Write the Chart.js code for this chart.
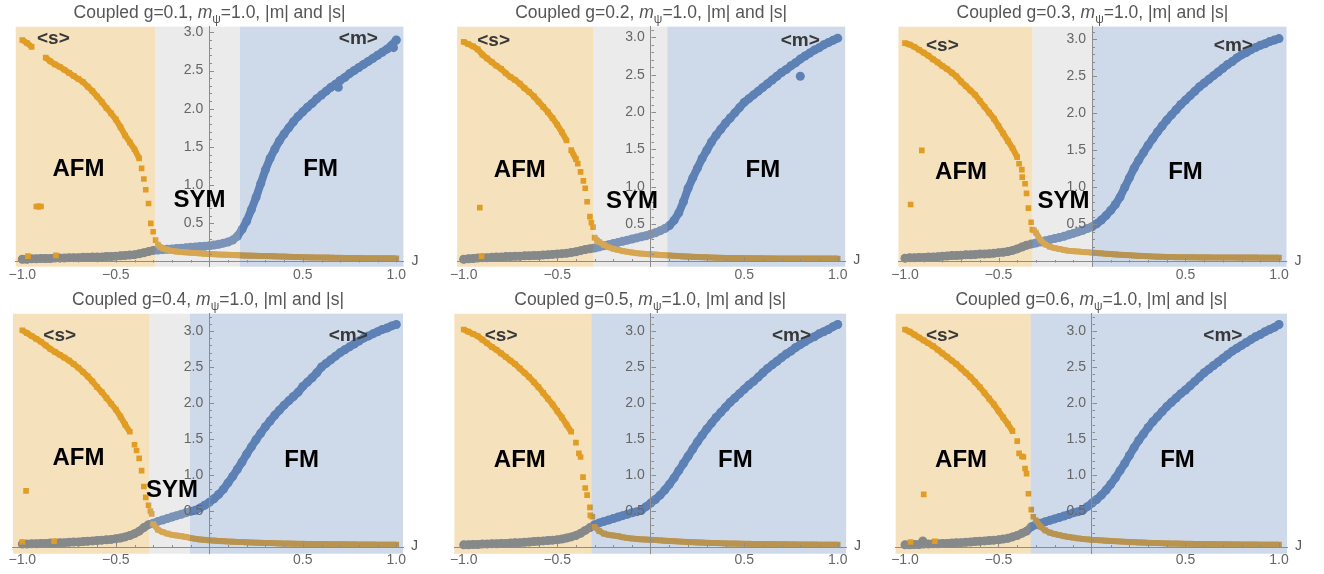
<!DOCTYPE html>
<html>
<head>
<meta charset="utf-8">
<script src="https://cdn.jsdelivr.net/npm/chart.js@4.4.1/dist/chart.umd.min.js"></script>
<style>
  body { margin: 0; background: #fff; }
  #wrap { position: relative; width: 1324px; height: 574px; overflow: hidden; }
  .panel { position: absolute; width: 441px; height: 287px; }
  .panel canvas { position: absolute; left: 0; top: 0; }
  .ttl { position: absolute; top: 2px; text-align: center; white-space: nowrap;
         font: 17.5px "Liberation Sans", Arial, sans-serif; color: #555; }
  .ttl sub { font-size: 12px; line-height: 0; }
</style>
</head>
<body>
<div id="wrap"></div>
<script>
// ===== DATA =====
const jValues = [
  -1, -0.975, -0.95, -0.925, -0.9, -0.875, -0.85, -0.825, -0.8, -0.775,
  -0.75, -0.725, -0.7, -0.675, -0.65, -0.625, -0.6, -0.575, -0.55, -0.525,
  -0.5, -0.475, -0.45, -0.425, -0.4, -0.375, -0.35, -0.325, -0.3, -0.275,
  -0.25, -0.225, -0.2, -0.175, -0.15, -0.125, -0.1, -0.075, -0.05, -0.025,
  0, 0.025, 0.05, 0.075, 0.1, 0.125, 0.15, 0.175, 0.2, 0.225,
  0.25, 0.275, 0.3, 0.325, 0.35, 0.375, 0.4, 0.425, 0.45, 0.475,
  0.5, 0.525, 0.55, 0.575, 0.6, 0.625, 0.65, 0.675, 0.7, 0.725,
  0.75, 0.775, 0.8, 0.825, 0.85, 0.875, 0.9, 0.925, 0.95, 0.975, 1
];

const gValues = [0.1, 0.2, 0.3, 0.4, 0.5, 0.6];

// <s> (orange squares)
const s1 = [
  2.90, 2.86, 2.81, 0.72, 0.72, 2.67, 2.62, 2.58, 2.55, 2.51,
  2.47, 2.43, 2.39, 2.35, 2.29, 2.23, 2.16, 2.09, 2.01, 1.94,
  1.86, 1.76, 1.65, 1.56, 1.47, 1.35, 1.08, 0.76, 0.39, 0.22,
  0.17, 0.155, 0.14, 0.13, 0.125, 0.12, 0.115, 0.11, 0.107, 0.10,
  0.098, 0.095, 0.092, 0.09, 0.088, 0.085, 0.083, 0.08, 0.078, 0.076,
  0.075, 0.073, 0.072, 0.07, 0.068, 0.066, 0.064, 0.062, 0.06, 0.058,
  0.056, 0.055, 0.054, 0.053, 0.052, 0.051, 0.05, 0.049, 0.048, 0.047,
  0.046, 0.045, 0.045, 0.044, 0.043, 0.043, 0.042, 0.042, 0.041, 0.041, 0.04
];
const s2 = [
  2.94, 2.91, 2.88, 2.84, 2.77, 2.72, 2.67, 2.62, 2.58, 2.52,
  2.47, 2.43, 2.38, 2.32, 2.27, 2.21, 2.14, 2.07, 2.00, 1.92,
  1.83, 1.73, 1.62, 1.49, 1.37, 1.20, 0.98, 0.60, 0.32, 0.26,
  0.22, 0.19, 0.17, 0.155, 0.14, 0.13, 0.12, 0.11, 0.105, 0.10,
  0.096, 0.092, 0.088, 0.084, 0.08, 0.076, 0.072, 0.068, 0.065, 0.062,
  0.06, 0.057, 0.055, 0.053, 0.051, 0.05, 0.048, 0.047, 0.046, 0.045,
  0.044, 0.043, 0.043, 0.042, 0.042, 0.041, 0.041, 0.04, 0.04, 0.04,
  0.04, 0.04, 0.04, 0.04, 0.04, 0.04, 0.04, 0.04, 0.04, 0.04, 0.04
];
const s3 = [
  2.95, 2.93, 2.90, 2.86, 2.82, 2.78, 2.73, 2.69, 2.64, 2.60,
  2.55, 2.50, 2.43, 2.37, 2.31, 2.25, 2.17, 2.09, 2.01, 1.93,
  1.83, 1.73, 1.63, 1.53, 1.41, 1.24, 0.92, 0.53, 0.39, 0.29,
  0.23, 0.20, 0.18, 0.17, 0.155, 0.145, 0.14, 0.135, 0.13, 0.125,
  0.12, 0.115, 0.11, 0.105, 0.10, 0.096, 0.092, 0.088, 0.084, 0.08,
  0.077, 0.074, 0.071, 0.068, 0.066, 0.064, 0.062, 0.06, 0.059, 0.058,
  0.057, 0.056, 0.056, 0.055, 0.055, 0.055, 0.054, 0.054, 0.054, 0.054,
  0.054, 0.053, 0.053, 0.053, 0.053, 0.053, 0.052, 0.052, 0.052, 0.052, 0.052
];
const s4 = [
  3.01, 2.97, 2.93, 2.89, 2.85, 2.80, 2.75, 2.71, 2.67, 2.63,
  2.59, 2.54, 2.49, 2.43, 2.37, 2.30, 2.22, 2.15, 2.07, 1.99,
  1.91, 1.81, 1.70, 1.60, 1.42, 1.23, 0.84, 0.58, 0.32, 0.24,
  0.21, 0.185, 0.17, 0.16, 0.15, 0.14, 0.125, 0.115, 0.105, 0.10,
  0.093, 0.089, 0.085, 0.081, 0.077, 0.074, 0.071, 0.068, 0.065, 0.062,
  0.06, 0.058, 0.056, 0.054, 0.052, 0.05, 0.048, 0.047, 0.046, 0.045,
  0.044, 0.043, 0.042, 0.041, 0.04, 0.039, 0.038, 0.038, 0.037, 0.037,
  0.036, 0.036, 0.035, 0.035, 0.034, 0.034, 0.033, 0.033, 0.033, 0.032, 0.032
];
const s5 = [
  3.02, 2.99, 2.96, 2.93, 2.88, 2.83, 2.78, 2.74, 2.69, 2.64,
  2.59, 2.54, 2.48, 2.42, 2.36, 2.29, 2.22, 2.14, 2.06, 1.98,
  1.89, 1.80, 1.70, 1.60, 1.45, 1.25, 0.82, 0.55, 0.28, 0.22,
  0.185, 0.17, 0.16, 0.15, 0.135, 0.125, 0.118, 0.112, 0.107, 0.103,
  0.10, 0.096, 0.092, 0.088, 0.084, 0.08, 0.076, 0.073, 0.07, 0.067,
  0.064, 0.061, 0.058, 0.056, 0.054, 0.052, 0.05, 0.048, 0.047, 0.046,
  0.045, 0.044, 0.043, 0.042, 0.041, 0.04, 0.039, 0.038, 0.037, 0.037,
  0.036, 0.036, 0.035, 0.035, 0.034, 0.034, 0.033, 0.033, 0.033, 0.032, 0.032
];
const s6 = [
  3.02, 2.99, 2.95, 2.91, 2.87, 2.83, 2.79, 2.74, 2.69, 2.64,
  2.59, 2.54, 2.48, 2.42, 2.36, 2.29, 2.22, 2.14, 2.06, 1.98,
  1.89, 1.80, 1.71, 1.61, 1.47, 1.26, 1.02, 0.52, 0.37, 0.28,
  0.23, 0.20, 0.18, 0.165, 0.15, 0.14, 0.13, 0.12, 0.113, 0.106,
  0.10, 0.096, 0.092, 0.088, 0.084, 0.08, 0.076, 0.073, 0.07, 0.067,
  0.064, 0.061, 0.058, 0.056, 0.054, 0.052, 0.05, 0.048, 0.047, 0.046,
  0.045, 0.044, 0.043, 0.042, 0.041, 0.04, 0.039, 0.038, 0.037, 0.037,
  0.036, 0.036, 0.035, 0.035, 0.034, 0.034, 0.033, 0.033, 0.033, 0.032, 0.032
];

// <m> (blue discs)
const m1 = [
  0.03, 0.03, 0.035, 0.035, 0.04, 0.04, 0.04, 0.045, 0.045, 0.045,
  0.05, 0.05, 0.05, 0.055, 0.055, 0.06, 0.06, 0.06, 0.065, 0.065,
  0.07, 0.075, 0.08, 0.085, 0.09, 0.10, 0.115, 0.13, 0.145, 0.15,
  0.155, 0.16, 0.165, 0.17, 0.175, 0.18, 0.185, 0.19, 0.195, 0.20,
  0.205, 0.215, 0.225, 0.24, 0.255, 0.28, 0.33, 0.42, 0.53, 0.68,
  0.84, 1.02, 1.20, 1.35, 1.47, 1.58, 1.67, 1.75, 1.83, 1.90,
  1.96, 2.02, 2.07, 2.13, 2.18, 2.23, 2.28, 2.32, 2.37, 2.41,
  2.46, 2.50, 2.54, 2.58, 2.62, 2.66, 2.70, 2.74, 2.78, 2.83, 2.90
];
const m2 = [
  0.03, 0.035, 0.04, 0.045, 0.05, 0.05, 0.055, 0.06, 0.06, 0.065,
  0.065, 0.07, 0.07, 0.075, 0.075, 0.08, 0.08, 0.085, 0.09, 0.095,
  0.10, 0.105, 0.11, 0.12, 0.13, 0.145, 0.16, 0.17, 0.18, 0.195,
  0.21, 0.225, 0.24, 0.255, 0.27, 0.285, 0.30, 0.315, 0.33, 0.345,
  0.365, 0.385, 0.41, 0.44, 0.48, 0.55, 0.65, 0.80, 0.98, 1.12,
  1.25, 1.38, 1.49, 1.60, 1.69, 1.77, 1.85, 1.92, 1.99, 2.06,
  2.13, 2.18, 2.23, 2.28, 2.33, 2.38, 2.43, 2.48, 2.53, 2.57,
  2.62, 2.66, 2.71, 2.75, 2.79, 2.83, 2.86, 2.90, 2.93, 2.96, 2.99
];
const m3 = [
  0.045, 0.05, 0.05, 0.055, 0.055, 0.06, 0.06, 0.065, 0.07, 0.075,
  0.08, 0.08, 0.085, 0.09, 0.09, 0.095, 0.10, 0.10, 0.105, 0.11,
  0.12, 0.125, 0.135, 0.15, 0.17, 0.195, 0.22, 0.235, 0.25, 0.265,
  0.28, 0.295, 0.31, 0.325, 0.34, 0.36, 0.38, 0.40, 0.42, 0.445,
  0.47, 0.51, 0.56, 0.62, 0.69, 0.77, 0.87, 1.00, 1.13, 1.26,
  1.37, 1.47, 1.57, 1.66, 1.75, 1.83, 1.91, 1.98, 2.05, 2.12,
  2.18, 2.24, 2.30, 2.36, 2.41, 2.46, 2.51, 2.56, 2.61, 2.66,
  2.70, 2.75, 2.79, 2.82, 2.86, 2.89, 2.92, 2.94, 2.97, 2.99, 3.01
];
const m4 = [
  0.04, 0.04, 0.045, 0.045, 0.05, 0.05, 0.055, 0.055, 0.06, 0.06,
  0.065, 0.07, 0.07, 0.075, 0.08, 0.085, 0.09, 0.095, 0.10, 0.105,
  0.115, 0.125, 0.14, 0.16, 0.185, 0.22, 0.27, 0.31, 0.33, 0.355,
  0.375, 0.395, 0.415, 0.435, 0.455, 0.475, 0.495, 0.51, 0.54, 0.58,
  0.62, 0.67, 0.73, 0.80, 0.89, 0.98, 1.08, 1.18, 1.29, 1.39,
  1.49, 1.58, 1.67, 1.75, 1.83, 1.90, 1.97, 2.03, 2.09, 2.15,
  2.23, 2.29, 2.35, 2.42, 2.50, 2.55, 2.60, 2.65, 2.70, 2.74,
  2.78, 2.82, 2.86, 2.90, 2.93, 2.96, 2.99, 3.02, 3.04, 3.07, 3.09
];
const m5 = [
  0.03, 0.03, 0.035, 0.035, 0.04, 0.04, 0.045, 0.045, 0.05, 0.05,
  0.055, 0.06, 0.06, 0.065, 0.07, 0.075, 0.08, 0.085, 0.09, 0.095,
  0.10, 0.11, 0.125, 0.14, 0.16, 0.19, 0.23, 0.27, 0.31, 0.335,
  0.355, 0.375, 0.395, 0.415, 0.435, 0.455, 0.475, 0.49, 0.51, 0.56,
  0.61, 0.66, 0.72, 0.79, 0.87, 0.96, 1.06, 1.16, 1.26, 1.36,
  1.46, 1.55, 1.64, 1.72, 1.80, 1.87, 1.94, 2.01, 2.07, 2.13,
  2.19, 2.25, 2.30, 2.36, 2.42, 2.48, 2.53, 2.58, 2.63, 2.68,
  2.72, 2.77, 2.81, 2.85, 2.89, 2.92, 2.96, 2.99, 3.02, 3.06, 3.09
];
const m6 = [
  0.03, 0.03, 0.035, 0.035, 0.04, 0.04, 0.045, 0.045, 0.05, 0.05,
  0.055, 0.06, 0.06, 0.065, 0.07, 0.075, 0.08, 0.085, 0.09, 0.095,
  0.10, 0.11, 0.12, 0.14, 0.16, 0.19, 0.22, 0.28, 0.31, 0.33,
  0.35, 0.37, 0.39, 0.41, 0.43, 0.45, 0.475, 0.49, 0.51, 0.56,
  0.61, 0.66, 0.72, 0.79, 0.87, 0.96, 1.06, 1.16, 1.27, 1.38,
  1.48, 1.57, 1.66, 1.74, 1.81, 1.88, 1.95, 2.01, 2.07, 2.13,
  2.18, 2.24, 2.30, 2.36, 2.42, 2.47, 2.52, 2.57, 2.62, 2.67,
  2.72, 2.76, 2.80, 2.84, 2.88, 2.92, 2.95, 2.99, 3.02, 3.05, 3.09
];

// extra <s> points (stray points and the steep drop)
const sExtraJ = [
  [-0.97, -0.82, -0.91, -0.362, -0.34, -0.313, -0.287, -0.264],
  [-0.914, -0.905, -0.39, -0.36, -0.34, -0.317, -0.308, -0.287],
  [-0.91, -0.97, -0.39, -0.373, -0.358, -0.34, -0.319, -0.31],
  [-0.98, -1.0, -0.83, -0.389, -0.362, -0.34, -0.315, -0.308],
  [-0.384, -0.362, -0.34, -0.323, -0.312],
  [-0.90, -0.97, -0.84, -0.39, -0.367, -0.358, -0.34, -0.314]
];
const sExtraV = [
  [0.07, 0.08, 0.72, 1.22, 0.94, 0.50, 0.28, 0.19],
  [0.72, 0.07, 1.31, 1.08, 0.80, 0.52, 0.46, 0.28],
  [1.50, 0.77, 1.32, 1.14, 1.05, 0.72, 0.43, 0.42],
  [0.78, 0.07, 0.08, 1.34, 1.06, 0.69, 0.50, 0.46],
  [1.30, 0.97, 0.72, 0.44, 0.42],
  [0.73, 0.07, 0.08, 1.30, 1.25, 1.09, 0.74, 0.42]
];
// extra <m> points
const mExtraJ = [[0.69, 0.985], [0.80], [], [], [], [-0.905]];
const mExtraV = [[2.28, 2.80], [2.48], [], [], [], [0.085]];

// phase boundaries (J)
const afmEnd = [-0.29, -0.308, -0.319, -0.321, -0.317, -0.328];
const symEnd = [0.164, 0.09, 0.0, -0.103, -0.317, -0.328];

// axis ranges and ticks
const xMin = [-1.035, -1.035, -1.035, -1.05, -1.05, -1.05];
const xMax = [1.038, 1.04, 1.04, 1.036, 1.045, 1.043];
const yMin = [-0.068, -0.07, -0.07, -0.093, -0.093, -0.093];
const yMax = [3.074, 3.143, 3.171, 3.24, 3.24, 3.24];
const xTickValues = [-1, -0.5, 0.5, 1];
const yTickValues = [0.5, 1, 1.5, 2, 2.5, 3];

// label anchors (data coordinates)
const afmLabel = [[-0.70, 1.20], [-0.70, 1.22], [-0.70, 1.21], [-0.70, 1.23], [-0.70, 1.20], [-0.70, 1.20]];
const symLabel = [[-0.053, 0.80], [-0.10, 0.81], [-0.152, 0.81], [-0.20, 0.79], null, null];
const fmLabel = [[0.595, 1.20], [0.60, 1.22], [0.50, 1.21], [0.494, 1.20], [0.453, 1.20], [0.457, 1.20]];
const sLabel = [[-0.834, 2.91], [-0.84, 2.96], [-0.80, 2.92], [-0.80, 2.94], [-0.80, 2.94], [-0.80, 2.94]];
const mLabel = [[0.797, 2.91], [0.80, 2.96], [0.756, 2.92], [0.743, 2.93], [0.753, 2.94], [0.70, 2.94]];

const sSeries = [s1, s2, s3, s4, s5, s6];
const mSeries = [m1, m2, m3, m4, m5, m6];

// ===== STYLE =====
const BLUE = '#5E81B5';
const ORANGE = '#E19C24';
const FONT = '"Liberation Sans", Arial, sans-serif';
const colLeft = [0, 441, 882];
const zeroPx = [209.3, 650.7, 1092];   // page x of J = 0 per column
const unitPx = 187;                     // px per unit J
const areaTop = 26.7, areaBottom = 266.7;

function pts(xs, ys) {
  return xs.map((x, i) => ({ x: x, y: ys[i] }));
}

function fmt(v) {
  return (v < 0 ? '\u2212' : '') + Math.abs(v).toFixed(1);
}

// join neighbouring squares into a band, but not across the steep drop
function bandColor(ctx) {
  const dy = Math.abs(ctx.p1.parsed.y - ctx.p0.parsed.y);
  return dy > 0.13 ? 'rgba(0,0,0,0)' : ORANGE;
}

// ===== PHASE SHADING, TICKS AND LABELS =====
function phasePlugin(k) {
  return {
    id: 'phase' + k,
    afterLayout(chart) {
      // put the value axis on J = 0 (labels sit to its left)
      const ys = chart.scales.y;
      const x0 = chart.scales.x.getPixelForValue(0);
      ys.right = x0;
      ys.left = x0 - 60;
      ys.width = 60;
    },
    afterDatasetsDraw(chart) {
      const ctx = chart.ctx, a = chart.chartArea, xs = chart.scales.x;
      const xa = xs.getPixelForValue(afmEnd[k]);
      const xb = xs.getPixelForValue(symEnd[k]);
      const h = a.bottom - a.top;
      ctx.save();
      ctx.fillStyle = 'rgba(225,156,36,0.3)';
      ctx.fillRect(a.left, a.top, xa - a.left, h);
      if (xb > xa) {
        ctx.fillStyle = 'rgba(188,188,188,0.3)';
        ctx.fillRect(xa, a.top, xb - xa, h);
      }
      ctx.fillStyle = 'rgba(94,129,181,0.3)';
      ctx.fillRect(xb, a.top, a.right - xb, h);
      ctx.restore();
    },
    afterDraw(chart) {
      const ctx = chart.ctx, a = chart.chartArea;
      const xs = chart.scales.x, ys = chart.scales.y;
      const x0 = Math.round(xs.getPixelForValue(0)) + 0.5;
      const y0 = Math.round(ys.getPixelForValue(0)) + 0.5;
      ctx.save();

      // tick marks
      ctx.strokeStyle = '#8c8c8c';
      ctx.lineWidth = 1;
      ctx.beginPath();
      for (let t = -10; t <= 10; t++) {
        if (t === 0) continue;
        const px = Math.round(xs.getPixelForValue(t / 10)) + 0.5;
        const len = t % 5 === 0 ? 4.5 : 2.5;
        ctx.moveTo(px, y0);
        ctx.lineTo(px, y0 - len);
      }
      for (let t = 1; t / 10 <= ys.max; t++) {
        const py = Math.round(ys.getPixelForValue(t / 10)) + 0.5;
        const len = t % 5 === 0 ? 4.5 : 2.5;
        ctx.moveTo(x0, py);
        ctx.lineTo(x0 + len, py);
      }
      ctx.stroke();

      // axis name
      ctx.fillStyle = '#555';
      ctx.font = '14px ' + FONT;
      ctx.textAlign = 'left';
      ctx.textBaseline = 'middle';
      ctx.fillText('J', a.right + 8, y0 - 1);

      // phase names
      ctx.textAlign = 'center';
      ctx.fillStyle = '#000';
      ctx.font = 'bold 24px ' + FONT;
      const put = (txt, p) => {
        if (!p) return;
        ctx.fillText(txt, xs.getPixelForValue(p[0]), ys.getPixelForValue(p[1]));
      };
      put('AFM', afmLabel[k]);
      put('SYM', symLabel[k]);
      put('FM', fmLabel[k]);

      // series names
      ctx.fillStyle = '#383838';
      ctx.font = 'bold 19px ' + FONT;
      put('<s>', sLabel[k]);
      put('<m>', mLabel[k]);
      ctx.restore();
    }
  };
}

// ===== BUILD PANELS =====
const wrap = document.getElementById('wrap');

gValues.forEach((g, k) => {
  const col = k % 3, row = Math.floor(k / 3);
  const left = zeroPx[col] + xMin[k] * unitPx - colLeft[col];
  const right = zeroPx[col] + xMax[k] * unitPx - colLeft[col];

  const panel = document.createElement('div');
  panel.className = 'panel';
  panel.style.left = colLeft[col] + 'px';
  panel.style.top = (row * 287) + 'px';

  const canvas = document.createElement('canvas');
  canvas.width = 441;
  canvas.height = 287;
  panel.appendChild(canvas);

  const title = document.createElement('div');
  title.className = 'ttl';
  title.style.left = left + 'px';
  title.style.width = (right - left) + 'px';
  title.innerHTML = 'Coupled g=' + g.toFixed(1) + ', <i>m</i><sub>\u03c8</sub>=1.0, |m| and |s|';
  panel.appendChild(title);

  wrap.appendChild(panel);

  new Chart(canvas, {
    type: 'scatter',
    data: {
      datasets: [
        {
          label: '<s>',
          data: pts(jValues, sSeries[k]),
          pointStyle: 'rect',
          pointRadius: 4,
          pointBackgroundColor: ORANGE,
          pointBorderWidth: 0,
          showLine: true,
          borderColor: ORANGE,
          borderWidth: 6,
          segment: { borderColor: bandColor },
          tension: 0,
          order: 1
        },
        {
          label: '<s> extra',
          data: pts(sExtraJ[k], sExtraV[k]),
          pointStyle: 'rect',
          pointRadius: 4,
          pointBackgroundColor: ORANGE,
          pointBorderWidth: 0,
          showLine: false,
          order: 1
        },
        {
          label: '<m>',
          data: pts(jValues, mSeries[k]),
          pointStyle: 'circle',
          pointRadius: 4.5,
          pointBackgroundColor: BLUE,
          pointBorderWidth: 0,
          showLine: true,
          borderColor: BLUE,
          borderWidth: 8,
          borderCapStyle: 'round',
          borderJoinStyle: 'round',
          tension: 0,
          order: 2
        },
        {
          label: '<m> extra',
          data: pts(mExtraJ[k], mExtraV[k]),
          pointStyle: 'circle',
          pointRadius: 4.5,
          pointBackgroundColor: BLUE,
          pointBorderWidth: 0,
          showLine: false,
          order: 2
        }
      ]
    },
    options: {
      responsive: false,
      animation: false,
      devicePixelRatio: 1,
      layout: {
        padding: { left: left, right: 441 - right, top: areaTop, bottom: 287 - areaBottom }
      },
      plugins: {
        legend: { display: false },
        tooltip: { enabled: false },
        title: { display: false }
      },
      scales: {
        x: {
          type: 'linear',
          min: xMin[k],
          max: xMax[k],
          position: { y: 0 },
          afterBuildTicks: s => { s.ticks = xTickValues.map(v => ({ value: v })); },
          afterFit: s => { s.height = 0; },
          grid: { display: false, drawTicks: false },
          border: { display: true, color: '#8c8c8c', width: 1, z: 1 },
          ticks: {
            z: 1, padding: 5, color: '#666', autoSkip: false, maxRotation: 0,
            font: { family: FONT, size: 14 },
            callback: v => fmt(v)
          }
        },
        y: {
          type: 'linear',
          min: yMin[k],
          max: yMax[k],
          position: 'left',
          afterBuildTicks: s => { s.ticks = yTickValues.map(v => ({ value: v })); },
          afterFit: s => { s.width = 0; },
          grid: { display: false, drawTicks: false },
          border: { display: true, color: '#8c8c8c', width: 1, z: 1 },
          ticks: {
            z: 1, padding: 6, color: '#666', autoSkip: false,
            font: { family: FONT, size: 14 },
            callback: v => fmt(v)
          }
        }
      }
    },
    plugins: [phasePlugin(k)]
  });
});
</script>
</body>
</html>
